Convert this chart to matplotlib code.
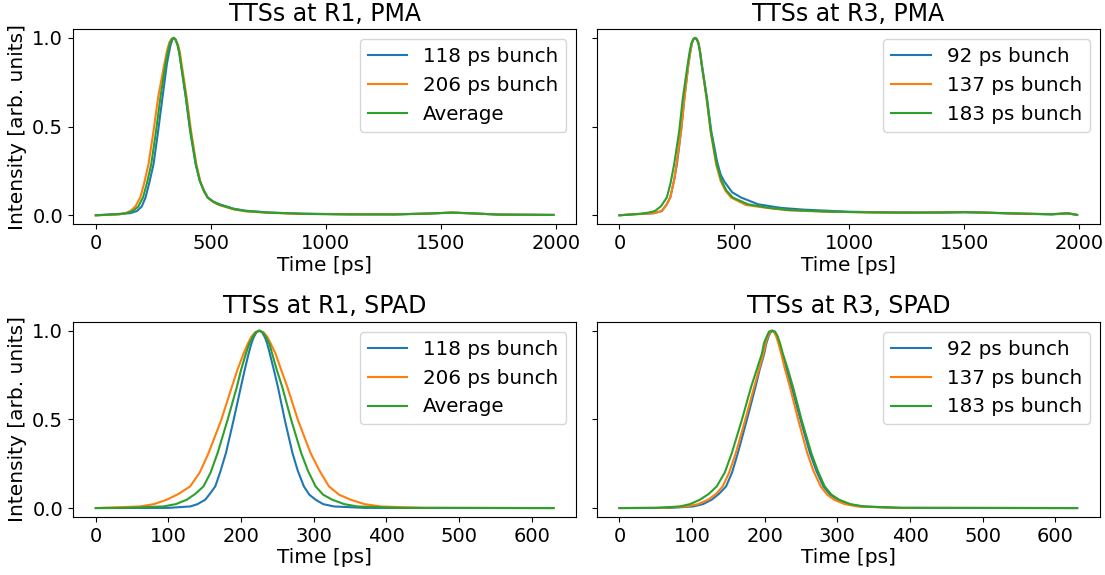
import matplotlib
matplotlib.use("Agg")
import matplotlib.pyplot as plt

# ---- TTS data (time in ps, intensity normalised) ----

# R1, PMA
r1_pma_118_t = [0, 50, 100, 150, 179, 200, 216, 232, 251, 271, 290, 309, 318, 325, 333, 340, 347, 356, 363,
                370, 391, 410, 434, 452, 470, 487, 510, 538, 600, 651, 750, 900, 1100, 1300, 1450, 1550,
                1650, 1750, 1990]
r1_pma_118_v = [0.0, 0.004, 0.008, 0.012, 0.024, 0.05, 0.1, 0.18, 0.288, 0.476, 0.665, 0.853, 0.915, 0.96,
                0.99, 1.0, 0.99, 0.96, 0.915, 0.853, 0.665, 0.476, 0.288, 0.194, 0.14, 0.1, 0.078, 0.062,
                0.037, 0.026, 0.016, 0.009, 0.006, 0.005, 0.01, 0.015, 0.01, 0.004, 0.002]

r1_pma_206_t = [0, 50, 100, 125, 150, 172, 193, 210, 229, 251, 271, 298, 310, 320, 329, 337, 346, 358, 366,
                373, 395, 414, 437, 454, 470, 486, 510, 536, 600, 651, 750, 900, 1100, 1300, 1450, 1550,
                1650, 1750, 1990]
r1_pma_206_v = [0.0, 0.002, 0.005, 0.01, 0.024, 0.05, 0.1, 0.18, 0.288, 0.476, 0.665, 0.853, 0.93, 0.975,
                0.995, 1.0, 0.99, 0.96, 0.915, 0.853, 0.665, 0.476, 0.288, 0.194, 0.135, 0.1, 0.075, 0.058,
                0.033, 0.022, 0.014, 0.008, 0.005, 0.005, 0.01, 0.016, 0.01, 0.004, 0.002]

r1_pma_avg_t = [0, 50, 100, 130, 161, 185, 205, 222, 241, 262, 281, 303, 313, 322, 331, 339, 347, 355, 363,
                370, 392, 411, 435, 452, 470, 486, 510, 536, 600, 651, 750, 900, 1100, 1300, 1450, 1550,
                1650, 1750, 1990]
r1_pma_avg_v = [0.0, 0.003, 0.006, 0.011, 0.024, 0.05, 0.1, 0.18, 0.288, 0.476, 0.665, 0.853, 0.92, 0.97,
                0.993, 1.0, 0.99, 0.96, 0.915, 0.853, 0.665, 0.476, 0.288, 0.194, 0.137, 0.1, 0.077, 0.06,
                0.035, 0.024, 0.015, 0.008, 0.005, 0.005, 0.01, 0.015, 0.01, 0.004, 0.002]

# R3, PMA
r3_pma_92_t = [0, 50, 100, 150, 184, 205, 221, 238, 250, 268, 283, 300, 308, 315, 323, 330, 337, 344, 351,
               358, 380, 399, 425, 440, 456, 490, 529, 603, 700, 800, 1000, 1200, 1400, 1500, 1600, 1700,
               1880, 1950, 1990]
r3_pma_92_v = [0.0, 0.005, 0.008, 0.012, 0.024, 0.06, 0.1, 0.2, 0.288, 0.476, 0.665, 0.853, 0.92, 0.97,
               0.993, 1.0, 0.993, 0.97, 0.92, 0.853, 0.665, 0.476, 0.3, 0.23, 0.19, 0.13, 0.1, 0.062, 0.042,
               0.032, 0.02, 0.016, 0.015, 0.017, 0.014, 0.01, 0.005, 0.01, 0.002]

r3_pma_137_t = [0, 50, 100, 150, 184, 205, 221, 238, 248, 268, 283, 300, 308, 315, 322, 329, 336, 344, 351,
                357, 378, 396, 420, 440, 460, 485, 550, 650, 735, 900, 1100, 1300, 1500, 1600, 1700, 1880,
                1950, 1990]
r3_pma_137_v = [0.0, 0.005, 0.008, 0.012, 0.024, 0.06, 0.1, 0.2, 0.288, 0.476, 0.665, 0.853, 0.92, 0.97,
                0.993, 1.0, 0.993, 0.97, 0.92, 0.853, 0.665, 0.476, 0.288, 0.194, 0.14, 0.1, 0.058, 0.04,
                0.028, 0.02, 0.016, 0.015, 0.018, 0.015, 0.011, 0.006, 0.012, 0.002]

r3_pma_183_t = [0, 50, 100, 130, 154, 180, 206, 222, 238, 260, 276, 297, 305, 313, 321, 328, 335, 343, 350,
                357, 379, 397, 423, 444, 465, 493, 559, 650, 735, 900, 1100, 1300, 1500, 1600, 1700, 1880,
                1950, 1990]
r3_pma_183_v = [0.0, 0.004, 0.01, 0.016, 0.024, 0.05, 0.1, 0.18, 0.288, 0.476, 0.665, 0.853, 0.92, 0.97,
                0.993, 1.0, 0.993, 0.97, 0.92, 0.853, 0.665, 0.476, 0.288, 0.194, 0.14, 0.1, 0.062, 0.042,
                0.03, 0.021, 0.016, 0.015, 0.018, 0.015, 0.011, 0.006, 0.012, 0.002]

# R1, SPAD
r1_spad_118_t = [0, 100, 130, 140, 150.6, 157, 164.4, 171, 179.1, 189.7, 199.8, 205, 210.4, 214, 217, 221,
                 225, 229, 233, 236, 239.4, 245, 250.5, 260.1, 270.7, 278, 286.4, 294, 302.5, 313, 327.8,
                 370, 630]
r1_spad_118_v = [0.0, 0.001, 0.009, 0.022, 0.047, 0.08, 0.122, 0.2, 0.31, 0.497, 0.685, 0.78, 0.872, 0.925,
                 0.96, 0.99, 1.0, 0.99, 0.96, 0.925, 0.872, 0.78, 0.685, 0.497, 0.31, 0.21, 0.122, 0.075,
                 0.047, 0.022, 0.009, 0.001, 0.0]

r1_spad_206_t = [0, 60.8, 80, 97.6, 114, 129.8, 143, 155.2, 172.7, 187.4, 195, 203.5, 209, 214, 219, 225,
                 231, 236, 241, 247.2, 255, 263.4, 278.1, 295.6, 308, 320.9, 335, 350.8, 370, 392.3, 450, 630]
r1_spad_206_v = [0.0, 0.009, 0.022, 0.047, 0.08, 0.122, 0.2, 0.31, 0.497, 0.685, 0.78, 0.872, 0.925, 0.965,
                 0.99, 1.0, 0.99, 0.965, 0.925, 0.872, 0.78, 0.685, 0.497, 0.31, 0.21, 0.122, 0.075, 0.047,
                 0.022, 0.009, 0.001, 0.0]

r1_spad_avg_t = [0, 40, 93, 110, 125.2, 137, 148.2, 158, 167.6, 181.4, 194.3, 200, 206.7, 211, 216, 220,
                 225, 230, 234, 239, 242.6, 249, 256.4, 268.9, 282.7, 292, 302.5, 313, 325.5, 342, 360, 420,
                 630]
r1_spad_avg_v = [0.0, 0.001, 0.009, 0.022, 0.047, 0.08, 0.122, 0.2, 0.31, 0.497, 0.685, 0.78, 0.872, 0.925,
                 0.965, 0.99, 1.0, 0.99, 0.965, 0.925, 0.872, 0.78, 0.685, 0.497, 0.31, 0.21, 0.122, 0.075,
                 0.047, 0.022, 0.009, 0.001, 0.0]

# R3, SPAD
r3_spad_92_t = [0, 70, 101.6, 115, 127, 137, 146.8, 155, 163, 175.4, 187.4, 193, 199.4, 202, 205, 208, 211,
                214, 217, 220, 223.9, 230, 236.8, 249.3, 262.2, 271, 280.7, 290, 301, 315, 332.4, 385, 630]
r3_spad_92_v = [0.0, 0.001, 0.009, 0.022, 0.047, 0.08, 0.122, 0.2, 0.31, 0.497, 0.685, 0.78, 0.872, 0.925,
                0.965, 0.99, 1.0, 0.99, 0.965, 0.925, 0.872, 0.78, 0.685, 0.497, 0.31, 0.21, 0.122, 0.075,
                0.047, 0.022, 0.009, 0.001, 0.0]

r3_spad_137_t = [0, 60, 92.3, 108, 122.3, 133, 142.2, 151, 160.2, 173.1, 185.6, 192, 198.5, 201, 204, 207,
                 210, 213, 216, 219, 222.5, 228, 234.5, 246.1, 258.5, 267, 277, 286, 295.5, 310, 327.8, 380,
                 630]
r3_spad_137_v = [0.0, 0.001, 0.009, 0.022, 0.047, 0.08, 0.122, 0.2, 0.31, 0.497, 0.685, 0.78, 0.872, 0.925,
                 0.965, 0.99, 1.0, 0.99, 0.965, 0.925, 0.872, 0.78, 0.685, 0.497, 0.31, 0.21, 0.122, 0.075,
                 0.047, 0.022, 0.009, 0.001, 0.0]

r3_spad_183_t = [0, 50, 83.1, 97, 110.8, 123, 133.9, 145, 154.7, 168.5, 181.4, 189, 196.2, 199, 203, 206,
                 210, 214, 217, 221, 224.8, 232, 238.7, 250.7, 264.1, 273, 282.5, 292, 302.4, 318, 337, 390,
                 630]
r3_spad_183_v = [0.0, 0.001, 0.009, 0.022, 0.047, 0.08, 0.122, 0.2, 0.31, 0.497, 0.685, 0.78, 0.872, 0.93,
                 0.97, 0.995, 1.0, 0.995, 0.975, 0.93, 0.872, 0.78, 0.685, 0.497, 0.31, 0.21, 0.122, 0.075,
                 0.047, 0.022, 0.009, 0.001, 0.0]

r1_labels = ["118 ps bunch", "206 ps bunch", "Average"]
r3_labels = ["92 ps bunch", "137 ps bunch", "183 ps bunch"]

panels = [
    ("TTSs at R1, PMA", [(r1_pma_118_t, r1_pma_118_v), (r1_pma_206_t, r1_pma_206_v),
                         (r1_pma_avg_t, r1_pma_avg_v)], r1_labels),
    ("TTSs at R3, PMA", [(r3_pma_92_t, r3_pma_92_v), (r3_pma_137_t, r3_pma_137_v),
                         (r3_pma_183_t, r3_pma_183_v)], r3_labels),
    ("TTSs at R1, SPAD", [(r1_spad_118_t, r1_spad_118_v), (r1_spad_206_t, r1_spad_206_v),
                          (r1_spad_avg_t, r1_spad_avg_v)], r1_labels),
    ("TTSs at R3, SPAD", [(r3_spad_92_t, r3_spad_92_v), (r3_spad_137_t, r3_spad_137_v),
                          (r3_spad_183_t, r3_spad_183_v)], r3_labels),
]

fig, axes = plt.subplots(2, 2, figsize=(11.05, 5.75), dpi=100, sharey="row")
plt.subplots_adjust(left=0.066, right=0.9955, bottom=0.101, top=0.9496, wspace=0.04, hspace=0.5)

for ax, (title, curves, labels) in zip(axes.flat, panels):
    for (t, v), lab in zip(curves, labels):
        ax.plot(t, v, lw=1.5, label=lab)
    ax.set_title(title, fontsize=17)
    ax.set_xlabel("Time [ps]", fontsize=14.5, labelpad=2)
    ax.set_yticks([0.0, 0.5, 1.0])
    ax.tick_params(labelsize=14)
    ax.legend(loc="upper right", fontsize=14.3)

axes[0, 0].set_ylabel("Intensity [arb. units]", fontsize=14.5)
axes[1, 0].set_ylabel("Intensity [arb. units]", fontsize=14.5)
axes[0, 0].set_xticks([0, 500, 1000, 1500, 2000])
axes[0, 1].set_xticks([0, 500, 1000, 1500, 2000])
axes[1, 0].set_xticks([0, 100, 200, 300, 400, 500, 600])
axes[1, 1].set_xticks([0, 100, 200, 300, 400, 500, 600])

plt.savefig("out.png", dpi=100)
